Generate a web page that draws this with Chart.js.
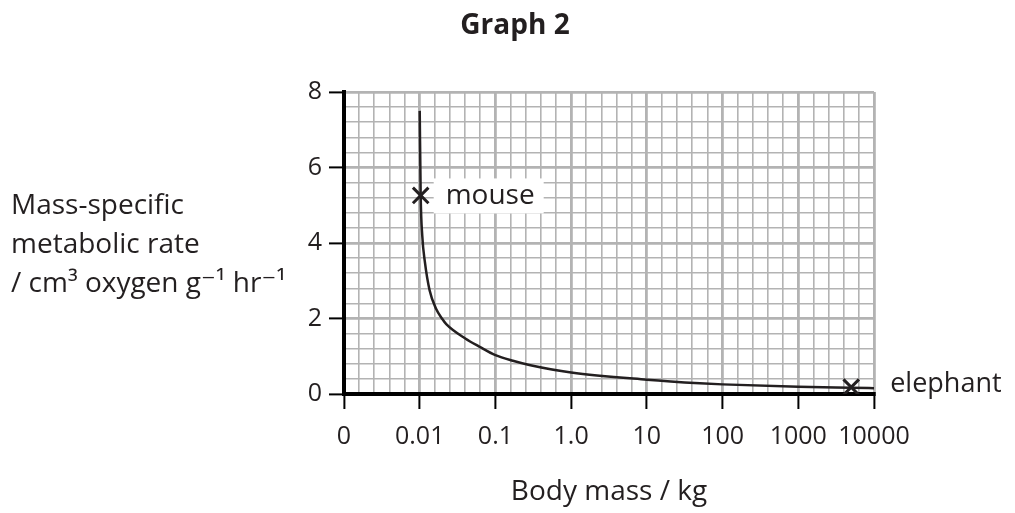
<!DOCTYPE html>
<html>
<head>
<meta charset="utf-8">
<script src="https://cdn.jsdelivr.net/npm/chart.js@4/dist/chart.umd.min.js"></script>
<style>
  html, body { margin: 0; padding: 0; background: #fff; }
</style>
</head>
<body>
<canvas id="graph" width="1015" height="513"></canvas>
<script>
// Axis labels (x categories sit one decade apart, "0" at the far left)
const xTickLabels = ['0', '0.01', '0.1', '1.0', '10', '100', '1000', '10000'];
const yTickLabels = ['0', '2', '4', '6', '8'];

// Curve: body mass (kg) -> mass-specific metabolic rate
const bodyMass = [0.01, 0.0103, 0.0108, 0.0117, 0.0135, 0.0165, 0.02, 0.0224, 0.04, 0.062, 0.1, 0.17, 0.28, 1, 10, 50, 100, 1000, 5000, 10000];
const metabolicRate = [7.5, 5.26, 4.2, 3.5, 2.75, 2.25, 1.98, 1.85, 1.47, 1.25, 1.03, 0.88, 0.77, 0.57, 0.38, 0.285, 0.255, 0.19, 0.165, 0.155];

// Marked animals
const animalNames = ['mouse', 'elephant'];
const animalMass = [0.0103, 5000];
const animalRate = [5.26, 0.18];

const ink = '#231f20';
const gridGrey = '#b3b3b3';
const font = "'Open Sans', 'DejaVu Sans', sans-serif";

// position on the x axis: 0.01 kg -> 1, 0.1 -> 2 ... 10000 -> 7
function massToPos(m) {
    return Math.log10(m) + 3;
}

function isMajor(v, every) {
    const r = v / every;
    return Math.abs(r - Math.round(r)) < 1e-6;
}

const curvePoints = bodyMass.map((m, i) => ({ x: massToPos(m), y: metabolicRate[i] }));
const animalPoints = animalMass.map((m, i) => ({ x: massToPos(m), y: animalRate[i], name: animalNames[i] }));

// text that is not part of an axis: title, y title, point labels
const labelsPlugin = {
    id: 'labels',
    afterDraw(chart) {
        const ctx = chart.ctx;
        const xs = chart.scales.x;
        const ys = chart.scales.y;
        ctx.save();
        ctx.fillStyle = ink;
        ctx.textBaseline = 'alphabetic';

        ctx.font = "bold 28px " + font;
        ctx.textAlign = 'center';
        ctx.fillText('Graph 2', 515, 34);

        ctx.font = "28px " + font;
        ctx.textAlign = 'left';
        ctx.fillText('Mass-specific', 11, 214);
        ctx.fillText('metabolic rate', 11, 253);
        ctx.fillText('/ cm\u00b3 oxygen g\u207b\u00b9 hr\u207b\u00b9', 11, 292);

        // mouse label on a white patch
        const mx = xs.getPixelForValue(animalPoints[0].x);
        const my = ys.getPixelForValue(animalPoints[0].y);
        ctx.fillStyle = '#fff';
        ctx.fillRect(mx + 13, my - 17, 110, 35);
        ctx.fillStyle = ink;
        ctx.fillText(animalPoints[0].name, mx + 25, my + 9);

        ctx.font = "27px " + font;
        const ex = xs.getPixelForValue(animalPoints[1].x);
        const ey = ys.getPixelForValue(animalPoints[1].y);
        ctx.fillText(animalPoints[1].name, ex + 39, ey + 5);
        ctx.restore();
    }
};

new Chart(document.getElementById('graph'), {
    type: 'scatter',
    data: {
        datasets: [
            {
                data: animalPoints,
                showLine: false,
                pointStyle: 'crossRot',
                pointRadius: 11,
                borderWidth: 3,
                borderColor: ink,
                order: 0
            },
            {
                data: curvePoints,
                showLine: true,
                borderColor: ink,
                borderWidth: 2.5,
                pointRadius: 0,
                cubicInterpolationMode: 'monotone',
                order: 1
            }
        ]
    },
    options: {
        responsive: false,
        animation: false,
        devicePixelRatio: 1,
        layout: { padding: { top: 92, right: 141, bottom: 0, left: 0 } },
        plugins: {
            legend: { display: false },
            tooltip: { enabled: false }
        },
        scales: {
            x: {
                type: 'linear',
                min: 0,
                max: 7,
                afterFit: (scale) => { scale.height = 119; },
                ticks: {
                    stepSize: 0.2,
                    autoSkip: false,
                    maxRotation: 0,
                    padding: 13,
                    color: ink,
                    font: { family: font, size: 25 },
                    callback: (v) => isMajor(v, 1) ? xTickLabels[Math.round(v)] : ''
                },
                grid: {
                    color: gridGrey,
                    lineWidth: (c) => isMajor(c.tick.value, 1) ? 2.8 : 1.6,
                    tickColor: (c) => isMajor(c.tick.value, 1) ? '#000' : 'rgba(0,0,0,0)',
                    tickLength: 15,
                    tickWidth: 2
                },
                border: { color: '#000', width: 4 },
                title: {
                    display: true,
                    text: 'Body mass / kg',
                    color: ink,
                    font: { family: font, size: 28 },
                    padding: { top: 4, bottom: 4 }
                }
            },
            y: {
                min: 0,
                max: 8,
                afterFit: (scale) => { scale.width = 344; },
                ticks: {
                    stepSize: 0.4,
                    autoSkip: false,
                    padding: 7,
                    color: ink,
                    font: { family: font, size: 25 },
                    callback: (v) => isMajor(v, 2) ? yTickLabels[Math.round(v / 2)] : ''
                },
                grid: {
                    color: gridGrey,
                    lineWidth: (c) => isMajor(c.tick.value, 2) ? 2.8 : 1.6,
                    tickColor: (c) => isMajor(c.tick.value, 2) ? '#000' : 'rgba(0,0,0,0)',
                    tickLength: 15,
                    tickWidth: 2
                },
                border: { color: '#000', width: 4 }
            }
        }
    },
    plugins: [labelsPlugin]
});
</script>
</body>
</html>
